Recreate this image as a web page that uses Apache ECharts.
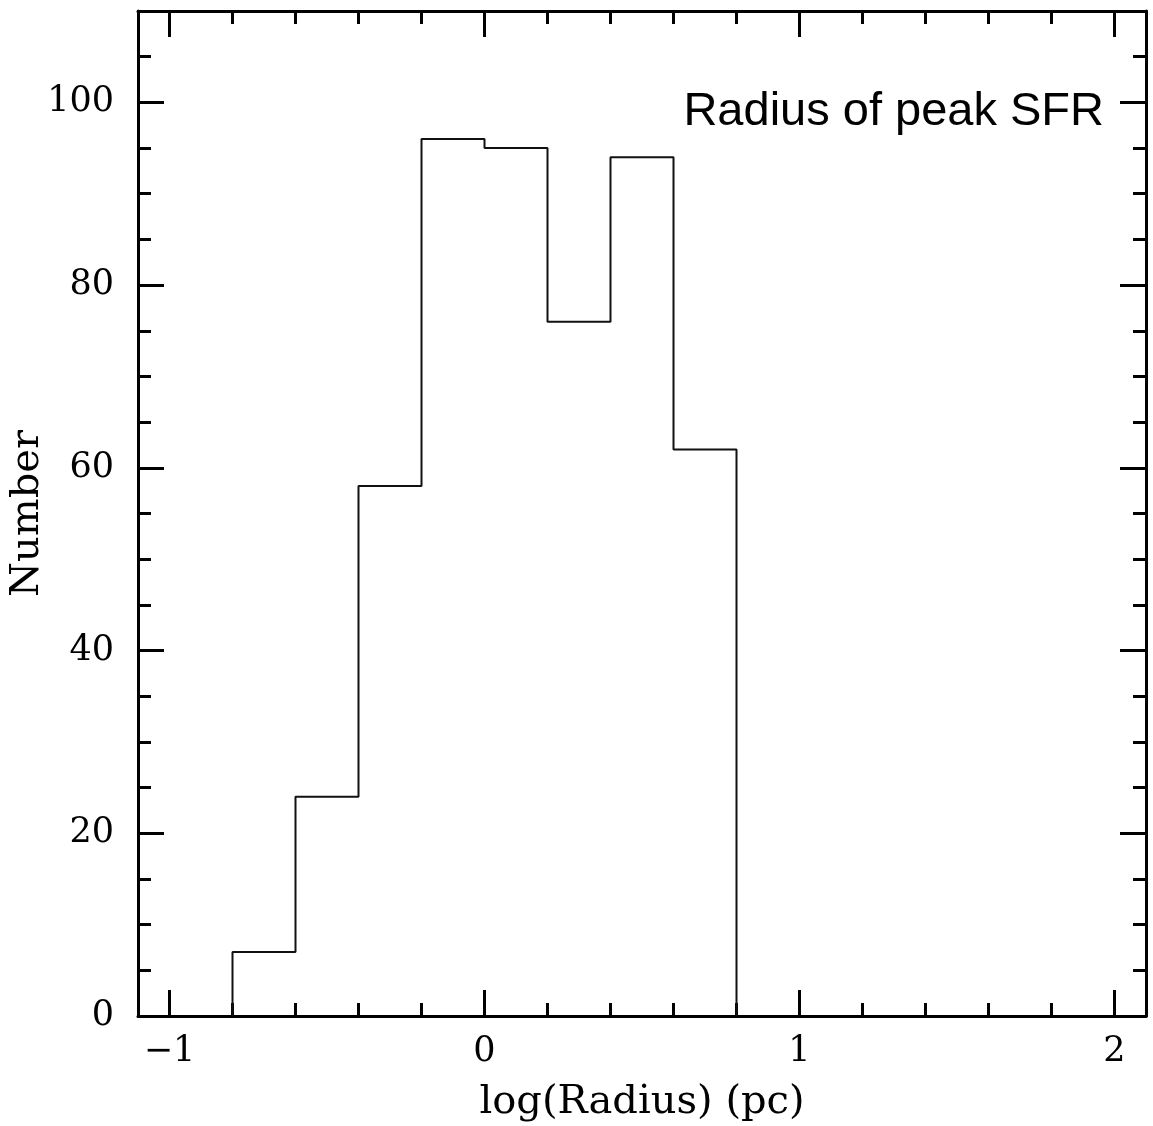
<!DOCTYPE html>
<html>
<head>
<meta charset="utf-8">
<script src="https://cdn.jsdelivr.net/npm/echarts@6/dist/echarts.min.js"></script>
<style>
  html, body { margin: 0; padding: 0; background: #fff; }
  #chart { width: 1153px; height: 1126px; }
</style>
</head>
<body>
<div id="chart"></div>
<script>
// histogram bins (left edges, width 0.2) and counts
const binEdges = [-0.8, -0.6, -0.4, -0.2, 0.0, 0.2, 0.4, 0.6, 0.8]
const counts = [7, 24, 58, 96, 95, 76, 94, 62]

// tick positions
const xMajorTicks = [-1, 0, 1, 2]
const xMinorTicks = [-0.8, -0.6, -0.4, -0.2, 0.2, 0.4, 0.6, 0.8, 1.2, 1.4, 1.6, 1.8]
const yMajorTicks = [0, 20, 40, 60, 80, 100]
const yMinorTicks = [5, 10, 15, 25, 30, 35, 45, 50, 55, 65, 70, 75, 85, 90, 95, 105]

const xRange = [-1.1, 2.1]
const yRange = [0, 110]

const titleText = 'Radius of peak SFR'
const xName = 'log(Radius) (pc)'
const yName = 'Number'

// step outline: start at baseline, then each bin's count, close back to 0
function buildStepData() {
  const pts = [[binEdges[0], 0]]
  counts.forEach((c, i) => pts.push([binEdges[i], c]))
  pts.push([binEdges[binEdges.length - 1], 0])
  return pts
}

const serifFont = '"DejaVu Serif", serif'
const frameColor = '#000'

function makeAxis(dim, position, ticks, len, opts = {}) {
  const range = dim === 'x' ? xRange : yRange
  return Object.assign({
    type: 'value',
    position,
    min: range[0],
    max: range[1],
    axisLine: { show: false, onZero: false, lineStyle: { color: frameColor, width: 3 } },
    axisTick: {
      show: true,
      inside: true,
      length: len,
      customValues: ticks,
      lineStyle: { color: frameColor, width: 3 }
    },
    axisLabel: { show: false },
    splitLine: { show: false }
  }, opts)
}

const chart = echarts.init(document.getElementById('chart'))

const xLabelFmt = v => (v < 0 ? '\u2212' + Math.abs(v) : String(v))

chart.setOption({
  animation: false,
  backgroundColor: '#fff',
  title: {
    text: titleText,
    right: 44,
    top: 84,
    textStyle: {
      fontFamily: '"Liberation Sans", Arial, sans-serif',
      fontWeight: 'normal',
      fontSize: 47,
      color: '#000'
    }
  },
  grid: {
    left: 138,
    right: 7,
    top: 11,
    bottom: 110,
    containLabel: false,
    outerBoundsMode: 'none'
  },
  xAxis: [
    makeAxis('x', 'bottom', xMajorTicks, 26, {
      axisLine: { show: true, onZero: false, lineStyle: { color: frameColor, width: 3 } },
      axisLabel: {
        show: true,
        customValues: xMajorTicks,
        formatter: xLabelFmt,
        margin: 18,
        color: '#000',
        fontFamily: serifFont,
        fontSize: 35
      },
      name: xName,
      nameLocation: 'middle',
      nameGap: 67,
      nameTextStyle: { color: '#000', fontFamily: serifFont, fontSize: 40 }
    }),
    makeAxis('x', 'bottom', xMinorTicks, 13),
    makeAxis('x', 'top', xMajorTicks, 26, {
      axisLine: { show: true, onZero: false, lineStyle: { color: frameColor, width: 3 } }
    }),
    makeAxis('x', 'top', xMinorTicks, 13)
  ],
  yAxis: [
    makeAxis('y', 'left', yMajorTicks, 26, {
      axisLine: { show: true, onZero: false, lineStyle: { color: frameColor, width: 3 } },
      axisLabel: {
        show: true,
        customValues: yMajorTicks,
        margin: 24,
        color: '#000',
        fontFamily: serifFont,
        fontSize: 35
      },
      name: yName,
      nameLocation: 'middle',
      nameGap: 90,
      nameMoveOverlap: false,
      nameTextStyle: { color: '#000', fontFamily: serifFont, fontSize: 40 }
    }),
    makeAxis('y', 'left', yMinorTicks, 13),
    makeAxis('y', 'right', yMajorTicks, 26, {
      axisLine: { show: true, onZero: false, lineStyle: { color: frameColor, width: 3 } }
    }),
    makeAxis('y', 'right', yMinorTicks, 13)
  ],
  series: [
    {
      type: 'line',
      xAxisIndex: 0,
      yAxisIndex: 0,
      data: buildStepData(),
      step: 'end',
      symbol: 'none',
      silent: true,
      lineStyle: { color: '#111', width: 2 }
    }
  ]
})
</script>
</body>
</html>
